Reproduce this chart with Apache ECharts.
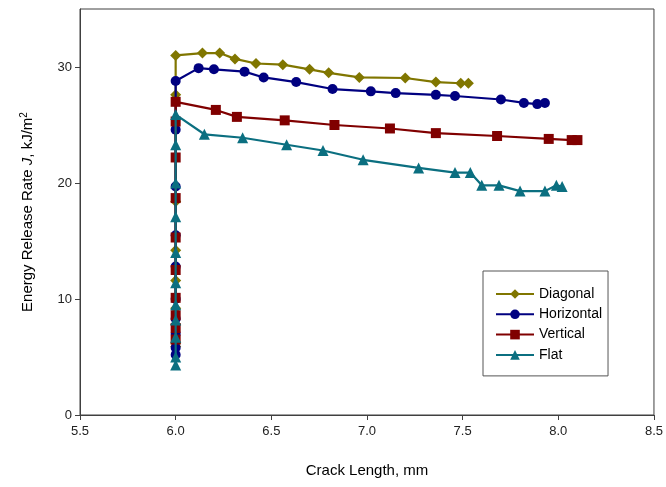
<!DOCTYPE html>
<html><head><meta charset="utf-8">
<script src="https://cdn.jsdelivr.net/npm/echarts@6/dist/echarts.min.js"></script>
<style>html,body{margin:0;padding:0;background:#fff}#c{width:666px;height:487px}</style>
</head><body><div id="c"></div>
<script>
const seriesNames = ['Diagonal', 'Horizontal', 'Vertical', 'Flat'];
const colors = ['#807600', '#000080', '#800000', '#0b6f80'];
const symbols = ['diamond', 'circle', 'rect', 'triangle'];

const diagonalX = [6.0,6.0,6.0,6.0,6.0,6.0,6.0,6.0,6.0,6.14,6.23,6.31,6.42,6.56,6.70,6.80,6.96,7.20,7.36,7.49,7.53];
const diagonalY = [5.9,6.2,7.8,9.2,11.6,14.2,18.4,27.6,31.0,31.2,31.2,30.7,30.3,30.2,29.8,29.5,29.1,29.05,28.7,28.6,28.6];

const horizontalX = [6.0,6.0,6.0,6.0,6.0,6.0,6.0,6.0,6.0,6.0,6.12,6.20,6.36,6.46,6.63,6.82,7.02,7.15,7.36,7.46,7.70,7.82,7.89,7.93];
const horizontalY = [5.2,5.8,7.0,8.3,10.0,12.8,15.5,19.7,24.6,28.8,29.9,29.8,29.6,29.1,28.7,28.1,27.9,27.75,27.6,27.5,27.2,26.9,26.8,26.9];

const verticalX = [6.0,6.0,6.0,6.0,6.0,6.0,6.0,6.0,6.0,6.0,6.21,6.32,6.57,6.83,7.12,7.36,7.68,7.95,8.07,8.10];
const verticalY = [6.5,7.5,8.6,10.1,12.5,15.3,18.7,22.2,25.3,27.0,26.3,25.7,25.4,25.0,24.7,24.3,24.05,23.8,23.7,23.7];

const flatX = [6.0,6.0,6.0,6.0,6.0,6.0,6.0,6.0,6.0,6.0,6.0,6.15,6.35,6.58,6.77,6.98,7.27,7.46,7.54,7.60,7.69,7.80,7.93,7.99,8.02];
const flatY = [4.3,5.0,6.7,8.2,9.5,11.4,14.0,17.1,20.0,23.3,25.9,24.2,23.9,23.3,22.8,22.0,21.3,20.9,20.9,19.8,19.8,19.3,19.3,19.8,19.7];

const xTicks = [5.5,6.0,6.5,7.0,7.5,8.0,8.5];
const yTicks = [0,10,20,30];

const xs = [diagonalX, horizontalX, verticalX, flatX];
const ys = [diagonalY, horizontalY, verticalY, flatY];
const symSizes = [11, 10, 10, 11];

const chart = echarts.init(document.getElementById('c'));
const font = 'Liberation Sans, Arial, sans-serif';
chart.setOption({
  animation: false,
  backgroundColor: '#fff',
  textStyle: { fontFamily: font },
  grid: { left: 80, right: 11, top: 9, bottom: 72, show: true, borderColor: '#404040', borderWidth: 1 },
  xAxis: {
    type: 'value', min: 5.5, max: 8.5, interval: 0.5,
    name: 'Crack Length, mm', nameLocation: 'middle', nameGap: 48,
    nameTextStyle: { fontSize: 15, color: '#000', fontFamily: font },
    axisLine: { lineStyle: { color: '#404040', width: 1 } },
    axisTick: { show: true, inside: false, length: 5, lineStyle: { color: '#404040' } },
    axisLabel: { fontSize: 13, color: '#222', margin: 10, formatter: v => xTicks.includes(+v.toFixed(1)) ? v.toFixed(1) : '' },
    splitLine: { show: false }
  },
  yAxis: {
    type: 'value', min: 0, max: 35, interval: 10,
    name: 'Energy Release Rate {i|J}, kJ/m{s|2}', nameLocation: 'middle', nameGap: 43,
    nameTextStyle: { fontSize: 15, color: '#000', fontFamily: font,
      rich: { i: { fontStyle: 'italic', fontSize: 15, fontFamily: font }, s: { fontSize: 10, verticalAlign: 'top', padding: [0,0,8,0], fontFamily: font } } },
    axisLine: { show: true, lineStyle: { color: '#404040', width: 1 } },
    axisTick: { show: true, inside: false, length: 5, lineStyle: { color: '#404040' }, customValues: yTicks },
    axisLabel: { fontSize: 13, color: '#222', margin: 8, customValues: yTicks, formatter: v => yTicks.includes(v) ? String(v) : '' },
    splitLine: { show: false }
  },
  legend: {
    orient: 'vertical', left: 483, top: 271,
    backgroundColor: '#fff', borderColor: '#555', borderWidth: 1,
    padding: [16, 6, 14, 12], itemWidth: 38, itemHeight: 12, itemGap: 6.3,
    textStyle: { fontSize: 14, color: '#000', fontFamily: font },
    data: seriesNames
  },
  series: seriesNames.map((n, i) => ({
    name: n, type: 'line',
    data: xs[i].map((x, k) => [x, ys[i][k]]),
    symbol: symbols[i], symbolSize: symSizes[i], showSymbol: true,
    color: colors[i],
    lineStyle: { width: 2.2, color: colors[i] },
    itemStyle: { color: colors[i] },
    z: 2 + i
  }))
});
</script></body></html>
